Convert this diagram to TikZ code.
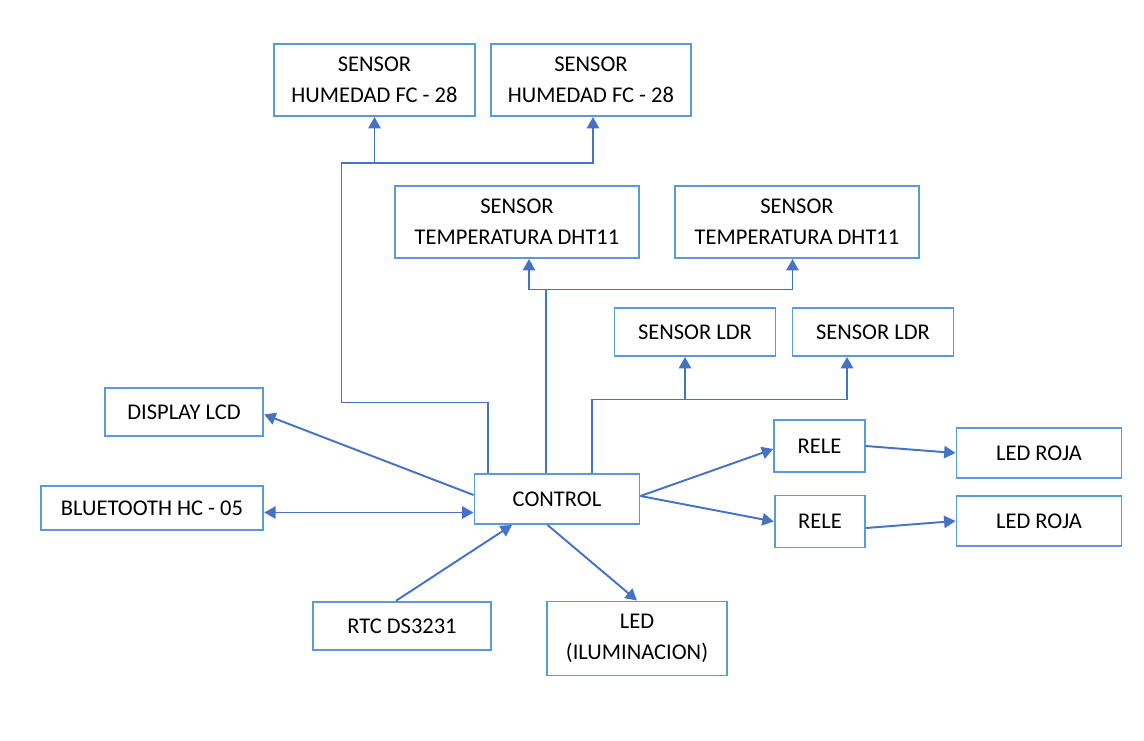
\documentclass[tikz,border=0pt]{standalone}
\usepackage{fontspec}
\setmainfont{Carlito}
\usepackage{tikz}
\usetikzlibrary{arrows.meta,positioning}
\definecolor{boxblue}{RGB}{91,155,213}
\definecolor{lineblue}{RGB}{68,114,196}
\tikzstyle{box1}=[rectangle, draw=boxblue, line width=1.1pt, align=center, inner sep=0pt, font=\fontsize{12.8}{17.5}\selectfont]
\tikzstyle{line1}=[draw=lineblue, line width=1.1pt]
\tikzstyle{arrow1}=[line1, -{Triangle[length=6.5pt,width=7pt]}]
\tikzstyle{arrow2}=[line1, {Triangle[length=6.5pt,width=7pt]}-{Triangle[length=6.5pt,width=7pt]}]

\begin{document}
\begin{tikzpicture}
\useasboundingbox (0,0) rectangle (22.88,-14.8);
%Sensors
\node[box1, minimum width=4.01cm, minimum height=1.44cm] (hum1) at (7.49,-1.60){SENSOR\\HUMEDAD FC - 28};
\node[box1, minimum width=4.01cm, minimum height=1.44cm] (hum2) at (11.82,-1.60){SENSOR\\HUMEDAD FC - 28};
\node[box1, minimum width=4.89cm, minimum height=1.44cm] (tem1) at (10.34,-4.44){SENSOR\\TEMPERATURA DHT11};
\node[box1, minimum width=4.89cm, minimum height=1.44cm] (tem2) at (15.94,-4.44){SENSOR\\TEMPERATURA DHT11};
\node[box1, minimum width=3.22cm, minimum height=0.96cm] (ldr1) at (13.90,-6.64){SENSOR LDR};
\node[box1, minimum width=3.22cm, minimum height=0.96cm] (ldr2) at (17.46,-6.64){SENSOR LDR};
%Middle row
\node[box1, minimum width=3.17cm, minimum height=0.95cm] (lcd) at (3.68,-8.24){DISPLAY LCD};
\node[box1, minimum width=4.45cm, minimum height=0.87cm] (bt) at (3.04,-10.16){BLUETOOTH HC - 05};
\node[box1, minimum width=3.30cm, minimum height=1.00cm] (ctrl) at (11.14,-9.98){CONTROL};
\node[box1, minimum width=1.81cm, minimum height=1.05cm] (rele1) at (16.39,-8.92){RELE};
\node[box1, minimum width=1.81cm, minimum height=1.04cm] (rele2) at (16.40,-10.43){RELE};
\node[box1, minimum width=3.30cm, minimum height=1.00cm] (roja1) at (20.78,-9.06){LED ROJA};
\node[box1, minimum width=3.30cm, minimum height=1.00cm] (roja2) at (20.78,-10.42){LED ROJA};
%Bottom row
\node[box1, minimum width=3.57cm, minimum height=0.97cm] (rtc) at (8.04,-12.52){RTC DS3231};
\node[box1, minimum width=3.61cm, minimum height=1.48cm] (ledil) at (12.74,-12.77){LED\\(ILUMINACION)};

%Bus lines
\coordinate (hbend) at (6.83,-8.05);
\coordinate (hbus) at (6.83,-3.26);
\coordinate (tbus) at (0,-5.79);
\coordinate (lbus) at (0,-7.99);
\draw[arrow1] ([xshift=0.29cm]ctrl.north west) |- (hbend) -- (hbus) -| ([xshift=0.04cm]hum2.south);
\draw[arrow1] (hum1.south |- hbus) -- (hum1.south);
\draw[line1] ([xshift=1.45cm]ctrl.north west) -- ([xshift=1.45cm]ctrl.north west |- tbus);
\draw[arrow1] ([xshift=0.24cm]tem1.south |- tbus) -- ([xshift=0.24cm]tem1.south);
\draw[arrow1] ([xshift=0.24cm]tem1.south |- tbus) -| ([xshift=-0.09cm]tem2.south);
\draw[arrow1] ([xshift=2.37cm]ctrl.north west) |- ([xshift=-0.52cm]ldr2.south |- lbus) -- ([xshift=-0.52cm]ldr2.south);
\draw[arrow1] ([xshift=-0.2cm]ldr1.south |- lbus) -- ([xshift=-0.2cm]ldr1.south);

%Arrows
\draw[arrow1] ([yshift=0.08cm]ctrl.west) -- ([yshift=-0.05cm]lcd.east);
\draw[arrow2] ([yshift=-0.27cm]ctrl.west -| bt.east) -- ([yshift=-0.27cm]ctrl.west);
\draw[arrow1] ([xshift=-0.12cm]rtc.north) -- ([xshift=-0.9cm]ctrl.south);
\draw[arrow1] ([xshift=-0.19cm]ctrl.south) -- (ledil.north);
\draw[arrow1] ([yshift=0.06cm]ctrl.east) -- ([yshift=-0.06cm]rele1.west);
\draw[arrow1] ([yshift=0.06cm]ctrl.east) -- (rele2.west);
\draw[arrow1] (rele1.east) -- (roja1.west);
\draw[arrow1] ([yshift=-0.13cm]rele2.east) -- (roja2.west);
\end{tikzpicture}
\end{document}
